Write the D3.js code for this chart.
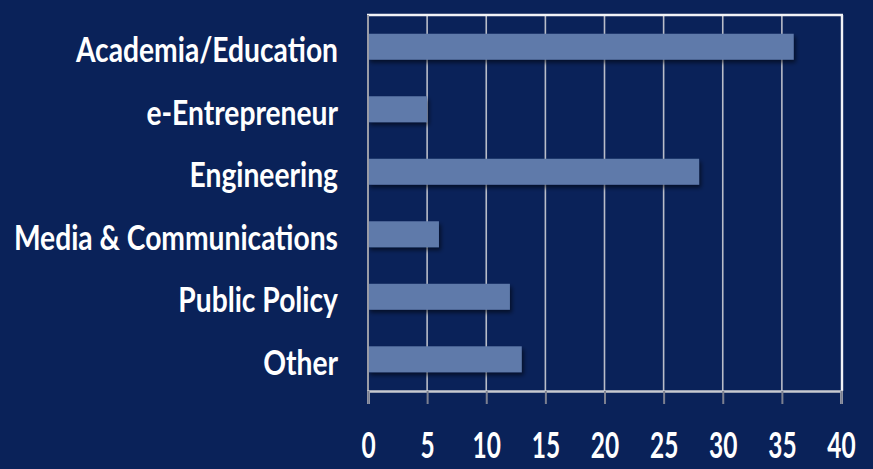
<!DOCTYPE html>
<html><head><meta charset="utf-8">
<script src="https://cdn.jsdelivr.net/npm/d3@7"></script>
<style>
html,body{margin:0;padding:0;background:#0a2259;}
svg{display:block;}
</style></head>
<body>
<svg id="chart" width="873" height="469"></svg>
<script>
const categories = ["Academia/Education","e-Entrepreneur","Engineering","Media & Communications","Public Policy","Other"];
const values = [36, 5, 28, 6, 12, 13];
const tickValues = [0,5,10,15,20,25,30,35,40];

const W = 873, H = 469;
const m = {left:368, right:32, top:15, bottom:78};
const svg = d3.select("#chart");
svg.append("rect").attr("width",W).attr("height",H).attr("fill","#0a2259");

const defs = svg.append("defs");
const f = defs.append("filter").attr("id","sh").attr("x","-5%").attr("y","-20%").attr("width","115%").attr("height","160%");
f.append("feDropShadow").attr("dx",2).attr("dy",3).attr("stdDeviation",2).attr("flood-color","#000").attr("flood-opacity",0.55);

const x = d3.scaleLinear().domain([0,40]).range([m.left, W-m.right]);
const y = d3.scaleBand().domain(categories).range([m.top, H-m.bottom]).paddingInner(0.585).paddingOuter(0.3);

// gridlines
svg.append("g").selectAll("line").data(tickValues.slice(1,-1)).join("line")
  .attr("x1",d=>x(d)).attr("x2",d=>x(d)).attr("y1",m.top).attr("y2",H-m.bottom)
  .attr("stroke","#b9bdc9").attr("stroke-width",1.6);

// frame top/right
svg.append("line").attr("x1",m.left-1).attr("x2",x(40)+2).attr("y1",m.top).attr("y2",m.top)
  .attr("stroke","#f2f3f6").attr("stroke-width",2.4);
svg.append("line").attr("x1",x(40)+1).attr("x2",x(40)+1).attr("y1",m.top).attr("y2",H-m.bottom)
  .attr("stroke","#f2f3f6").attr("stroke-width",2.4);

// bars
svg.append("g").selectAll("rect").data(values).join("rect")
  .attr("x",x(0)).attr("y",(d,i)=>y(categories[i]))
  .attr("width",d=>x(d)-x(0)).attr("height",y.bandwidth())
  .attr("fill","#5f7aaa").attr("filter","url(#sh)");

// left axis line
svg.append("line").attr("x1",m.left).attr("x2",m.left).attr("y1",m.top).attr("y2",H-m.bottom)
  .attr("stroke","#9a9ca6").attr("stroke-width",2);

// bottom axis
const xAxis = d3.axisBottom(x).tickValues(tickValues).tickSize(13).tickPadding(28).tickFormat(d3.format("d"));
const gx = svg.append("g").attr("transform",`translate(0,${H-m.bottom})`).call(xAxis);
gx.select(".domain").attr("stroke","#c8cad0").attr("stroke-width",2.6);
gx.selectAll(".tick line").attr("stroke","#7c8090").attr("stroke-width",2);
gx.selectAll(".tick text").attr("fill","#fff").attr("font-family","Lato, 'Open Sans', sans-serif")
  .attr("font-weight","bold").attr("font-size",36).attr("dy","0.71em")
  .attr("transform","scale(0.68,1)");

// category labels
svg.append("g").selectAll("text").data(categories).join("text")
  .attr("transform",d=>`translate(338,${y(d)+y.bandwidth()/2+15.5}) scale(0.83,1)`)
  .attr("text-anchor","end").attr("fill","#fff")
  .attr("font-family","Lato, 'Open Sans', sans-serif").attr("font-weight","bold").attr("font-size",34)
  .text(d=>d);
</script>
</body></html>
